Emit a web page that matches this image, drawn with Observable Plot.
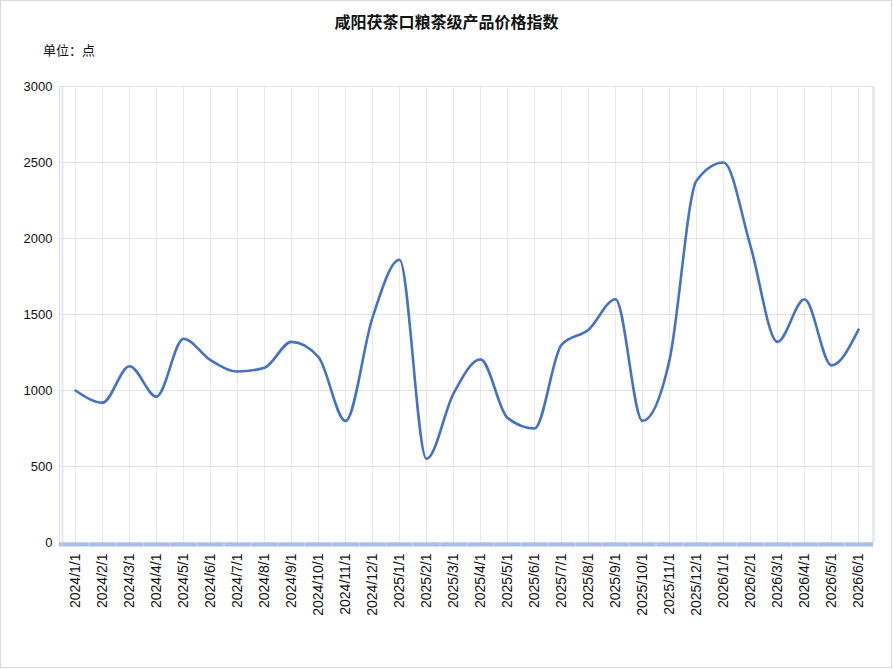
<!DOCTYPE html>
<html><head><meta charset="utf-8">
<script src="https://cdn.jsdelivr.net/npm/d3@7"></script>
<script src="https://cdn.jsdelivr.net/npm/@observablehq/plot@0.6"></script>
<style>
body{margin:0;background:#fff;}
#wrap{position:relative;width:893px;height:669px;overflow:hidden;background:#fff;}
#border{position:absolute;left:0;top:0;width:892px;height:668px;border:1px solid #d9d9d9;box-sizing:border-box;pointer-events:none;}
#title{position:absolute;top:10px;left:0;width:893px;text-align:center;font:bold 16px "Noto Sans CJK SC",sans-serif;line-height:22px;color:#111;}
#unit{position:absolute;top:41px;left:43px;font:13px "Noto Sans CJK SC",sans-serif;line-height:18px;color:#111;}
#chart{position:absolute;top:64px;left:0;}
</style></head>
<body>
<div id="wrap">
  <div id="title">咸阳茯茶口粮茶级产品价格指数</div>
  <div id="unit">单位：点</div>
  <div id="chart"></div>
  <div id="border"></div>
</div>
<script>
const dates = ["2024/1/1","2024/2/1","2024/3/1","2024/4/1","2024/5/1","2024/6/1","2024/7/1","2024/8/1","2024/9/1","2024/10/1","2024/11/1","2024/12/1",
  "2025/1/1","2025/2/1","2025/3/1","2025/4/1","2025/5/1","2025/6/1","2025/7/1","2025/8/1","2025/9/1","2025/10/1","2025/11/1","2025/12/1",
  "2026/1/1","2026/2/1","2026/3/1","2026/4/1","2026/5/1","2026/6/1"];
const values = [1000,920,1160,960,1340,1200,1125,1150,1320,1220,800,1480,
  1860,550,980,1205,820,750,1300,1400,1600,800,1200,2380,
  2500,1950,1320,1600,1165,1400];
const yTicks = [0,500,1000,1500,2000,2500,3000];
const data = dates.map((d,i)=>({date:d, value:values[i]}));

const chart = Plot.plot({
  width: 893, height: 605,
  marginTop: 22, marginBottom: 127, marginLeft: 59, marginRight: 20,
  style: {fontFamily: "'Liberation Sans', Arial, sans-serif", fontSize: "13px", color: "#111", background: "transparent", overflow: "visible"},
  x: {type: "point", domain: dates, padding: 0.5, label: null},
  y: {domain: [0, 3000], label: null},
  marks: [
    Plot.gridY(yTicks, {stroke: "#e2e2e2", strokeOpacity: 1}),
    Plot.gridX(dates, {stroke: "#e8e8e8", strokeOpacity: 1}),
    Plot.frame({stroke: "#e2e2e2"}),
    Plot.ruleX([dates[0]], {dx: -13, y1: 0, y2: 3000, stroke: "#e1e8f7", strokeWidth: 2}),
    Plot.ruleX([dates[dates.length-1]], {dx: 15, y1: 0, y2: 3000, stroke: "#e3eaf8", strokeWidth: 3}),
    Plot.ruleY([0], {stroke: "#a9bdea", strokeWidth: 4, dy: 2}),
    Plot.ruleX(dates, {dx: -13.5, y1: 0, y2: 28, dy: 4.5, stroke: "#d4dcec", strokeWidth: 1}),
    Plot.axisY(yTicks, {tickSize: 0, tickPadding: 7, fontSize: 13, tickFormat: d => String(d)}),
    Plot.axisX(dates, {tickSize: 0, tickPadding: 11, tickRotate: -90, fontSize: 14}),
    Plot.line(data, {x: "date", y: "value", stroke: "#4472C4", strokeWidth: 2.6, curve: "monotone-x"})
  ]
});
document.getElementById("chart").appendChild(chart);
</script>
</body></html>
